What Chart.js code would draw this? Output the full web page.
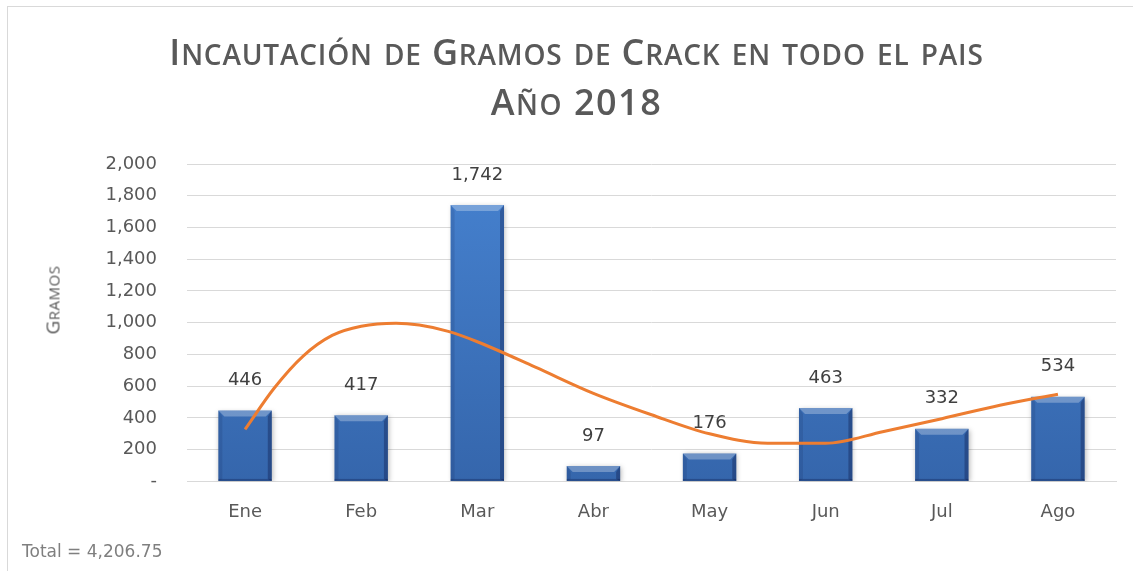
<!DOCTYPE html>
<html>
<head>
<meta charset="utf-8">
<script src="https://cdn.jsdelivr.net/npm/chart.js@4.4.1/dist/chart.umd.min.js"></script>
<style>
  html, body { margin: 0; padding: 0; background: #fff; }
  #wrap { position: relative; width: 1133px; height: 571px; overflow: hidden; }
  #frame { position: absolute; left: 7px; top: 6px; width: 1140px; height: 580px; border: 1px solid #d9d9d9; box-sizing: border-box; }
  canvas { position: absolute; left: 0; top: 0; }
  .title { position: absolute; left: 0; width: 1153px; text-align: center; color: #595959;
           font-family: "Open Sans", sans-serif; font-variant: small-caps; font-weight: 600; white-space: nowrap; }
  .sc { font-size: 1.12em; }
  #t1 { top: 22px; font-size: 36px; letter-spacing: 0.8px; }
  #t2 { top: 72px; font-size: 36px; letter-spacing: 1.5px; }
  #ytitle { position: absolute; left: 51px; top: 300px; transform: translate(-50%, -50%) rotate(-90deg);
            font-family: "Open Sans", sans-serif; font-variant: small-caps; font-size: 19px; letter-spacing: 0.5px; color: #595959; white-space: nowrap; }
  #total { position: absolute; left: 22px; top: 541px; font-family: "DejaVu Sans", sans-serif; font-size: 17px; color: #7f7f7f; }
</style>
</head>
<body>
<div id="wrap">
  <div id="frame"></div>
  <canvas id="chart" width="1133" height="571"></canvas>
  <div class="title" id="t1">I<span class="sc">ncautación de</span> G<span class="sc">ramos de</span> C<span class="sc">rack en todo el pais</span></div>
  <div class="title" id="t2">A<span class="sc">ño</span> 2018</div>
  <div id="ytitle">G<span class="sc">ramos</span></div>
  <div id="total">Total = 4,206.75</div>
</div>
<script>
const months = ["Ene", "Feb", "Mar", "Abr", "May", "Jun", "Jul", "Ago"];
const gramos = [446, 417, 1742, 97, 176, 463, 332, 534];
const yTicks = [0, 200, 400, 600, 800, 1000, 1200, 1400, 1600, 1800, 2000];

// trend curve (x = month index)
const trendX = [0, 0.25, 0.5, 0.75, 1, 1.3, 1.5, 1.75, 2, 2.5, 3, 3.5, 4, 4.5, 5, 5.5, 6, 6.5, 7];
const trendY = [328, 587, 790, 920, 978, 997, 985, 945, 880, 720, 555, 420, 300, 240, 240, 315, 395, 480, 549];

const fmt = v => v === 0 ? "-" : v.toLocaleString("en-US");
const tickFont = { size: 18, family: "'DejaVu Sans', sans-serif" };

function barFill(context) {
  const area = context.chart.chartArea;
  if (!area) return "#3e75bf";
  const g = context.chart.ctx.createLinearGradient(0, area.top, 0, area.bottom);
  g.addColorStop(0, "#4682d0");
  g.addColorStop(1, "#3566ac");
  return g;
}

const bevel = {
  id: "bevel",
  beforeDatasetDraw(chart, args) {
    if (args.index !== 0) return;
    const ctx = chart.ctx;
    ctx.save();
    ctx.shadowColor = "rgba(0,0,0,0.28)";
    ctx.shadowBlur = 5;
    ctx.shadowOffsetX = 1;
    ctx.shadowOffsetY = 1;
  },
  afterDatasetDraw(chart, args) {
    if (args.index !== 0) return;
    const ctx = chart.ctx;
    ctx.restore();
    args.meta.data.forEach(bar => {
      const l = bar.x - bar.width / 2, r = bar.x + bar.width / 2;
      const t = bar.y, b = bar.base, d = 6;
      ctx.save();
      // top bevel
      ctx.fillStyle = "rgba(255,255,255,0.28)";
      ctx.beginPath();
      ctx.moveTo(l, t); ctx.lineTo(r, t); ctx.lineTo(r - d, t + d); ctx.lineTo(l + d, t + d); ctx.closePath();
      ctx.fill();
      // left side
      ctx.fillStyle = "rgba(0,0,40,0.10)";
      ctx.beginPath();
      ctx.moveTo(l, t); ctx.lineTo(l + 4, t + d); ctx.lineTo(l + 4, b - 2); ctx.lineTo(l, b); ctx.closePath();
      ctx.fill();
      // right side
      ctx.fillStyle = "rgba(0,0,40,0.28)";
      ctx.beginPath();
      ctx.moveTo(r, t); ctx.lineTo(r - 4, t + d); ctx.lineTo(r - 4, b - 2); ctx.lineTo(r, b); ctx.closePath();
      ctx.fill();
      // bottom edge
      ctx.fillStyle = "rgba(0,0,40,0.25)";
      ctx.fillRect(l, b - 2, r - l, 2);
      ctx.restore();
    });
  }
};

const valueLabels = {
  id: "valueLabels",
  afterDraw(chart) {
    const ctx = chart.ctx;
    const y = chart.scales.y;
    ctx.save();
    ctx.font = "18px 'DejaVu Sans', sans-serif";
    ctx.fillStyle = "#404040";
    ctx.textAlign = "center";
    ctx.textBaseline = "middle";
    chart.getDatasetMeta(0).data.forEach((bar, i) => {
      ctx.fillText(fmt(gramos[i]), bar.x, y.getPixelForValue(gramos[i]) - 30);
    });
    ctx.restore();
  }
};

new Chart(document.getElementById("chart"), {
  type: "bar",
  data: {
    labels: months,
    datasets: [
      {
        type: "bar",
        data: gramos,
        backgroundColor: barFill,
        categoryPercentage: 1,
        barPercentage: 0.46,
        grouped: false,
        order: 2
      },
      {
        type: "line",
        data: trendX.map((x, i) => ({ x: x, y: trendY[i] })),
        xAxisID: "x2",
        borderColor: "#ed7d31",
        borderWidth: 3,
        pointRadius: 0,
        cubicInterpolationMode: "monotone",
        order: 1
      }
    ]
  },
  options: {
    responsive: false,
    animation: false,
    layout: { padding: { left: 0, right: 17, top: 164, bottom: 36 } },
    plugins: { legend: { display: false }, tooltip: { enabled: false } },
    scales: {
      x: {
        grid: { display: false },
        border: { color: "#d9d9d9" },
        ticks: { color: "#595959", font: tickFont, padding: 12 }
      },
      x2: { type: "linear", display: false, offset: false, min: -0.5, max: 7.5 },
      y: {
        min: 0, max: 2000,
        afterBuildTicks: s => { s.ticks = yTicks.map(v => ({ value: v })); },
        afterFit: s => { s.width = 187; },
        grid: { color: "#d9d9d9", drawTicks: false },
        border: { display: false },
        ticks: { color: "#595959", font: tickFont, padding: 30, callback: v => fmt(v) }
      }
    }
  },
  plugins: [bevel, valueLabels]
});
</script>
</body>
</html>
